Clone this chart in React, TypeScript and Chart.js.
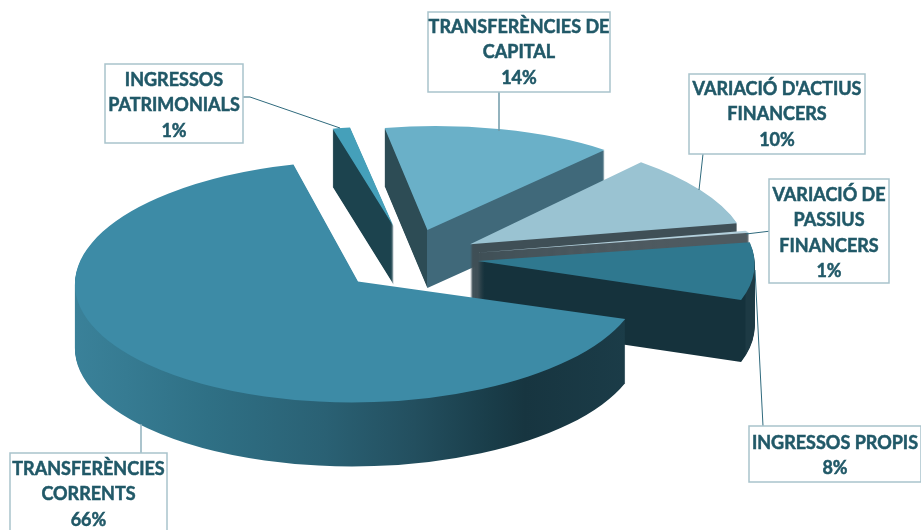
import React, { useEffect, useRef } from "react";
import Chart from "chart.js/auto";

const categories: string[][] = [
  ["TRANSFERÈNCIES", "CORRENTS"],
  ["INGRESSOS", "PATRIMONIALS"],
  ["TRANSFERÈNCIES DE", "CAPITAL"],
  ["VARIACIÓ D'ACTIUS", "FINANCERS"],
  ["VARIACIÓ DE", "PASSIUS", "FINANCERS"],
  ["INGRESSOS PROPIS"],
];
const shares = [66, 1, 14, 10, 1, 8];
const topColors = ["#3d8ba6", "#45a0ba", "#6ab0c8", "#9ac3d2", "#b3d0dc", "#2f788f"];

// Layout and styling only
const W = 921, H = 530;
const PIE_CX = 408, PIE_CY = 262, EXPLODE_X = 70, EXPLODE_Y = 33, RX = 281;
const ROTATION = 108;
const tilt = [0.43, 0.36, 0.37, 0.4, 0.13, 0.414];
const depth = [64, 58, 58, 58, 60, 62];
const paintOrder = [1, 2, 3, 4, 5, 0];
// view correction per slice: x scale, y-by-x shear, x-by-y shear, x and y nudge
const view = [
  { a: 1.007, t: 0, s: -0.05, dx: 1, dy: -3 },
  { a: 1, t: 0, s: -0.09, dx: 1, dy: -3 },
  { a: 0.956, t: 0, s: -0.074, dx: 2, dy: 0 },
  { a: 0.988, t: 0.025, s: 0.07, dx: 3, dy: 0 },
  { a: 0.985, t: -0.048, s: 0, dx: 1, dy: -2 },
  { a: 0.985, t: 0.011, s: 0, dx: 0, dy: -3 },
];
const wallStops: [number, string][][] = [
  [[76, "#3a8199"], [130, "#367b92"], [213, "#2f7085"], [330, "#2a6174"], [420, "#234f5f"], [500, "#193c48"], [530, "#173540"], [630, "#1b3c48"]],
  [[320, "#1c434e"], [400, "#1c434e"]],
  [[380, "#2d4c55"], [427, "#2d4c55"], [427, "#40697a"], [610, "#40697a"]],
  [[465, "#3f4f56"], [740, "#3f4f56"]],
  [[470, "#4e5a60"], [750, "#4e5a60"]],
  [[475, "#15323c"], [745, "#15323c"], [746, "#1d3a44"], [760, "#1d3a44"]],
];
const boxes = [
  { x: 10, y: 453, w: 157, h: 90, firstLine: 469 },
  { x: 105, y: 64, w: 138, h: 79, firstLine: 80 },
  { x: 428, y: 12, w: 182, h: 80, firstLine: 27 },
  { x: 689, y: 74, w: 176, h: 80, firstLine: 89 },
  { x: 769, y: 179, w: 120, h: 104, firstLine: 195 },
  { x: 749, y: 426, w: 172, h: 56, firstLine: 443 },
];
const leaders: { pts: number[][]; color: string; width: number }[] = [
  { pts: [[141, 424], [141, 453]], color: "#8fb0bc", width: 1.5 },
  { pts: [[243, 97], [250, 97], [340, 128]], color: "#2f6a7d", width: 1 },
  { pts: [[499, 92], [499, 131]], color: "#6f9aa9", width: 1.5 },
  { pts: [[703, 154], [699, 190]], color: "#2f6a7d", width: 1 },
  { pts: [[771, 231], [746, 234]], color: "#2f6a7d", width: 1 },
  { pts: [[755, 270], [763, 426]], color: "#2f6a7d", width: 1 },
];
const TEXT = "#215968", BORDER = "#a9c3cc", LINE_H = 25.5;

const pie3d = {
  id: "pie3d",
  beforeDatasetsDraw(chart: any) {
    const ctx: CanvasRenderingContext2D = chart.ctx;
    const arcs = chart.getDatasetMeta(0).data;
    for (const i of paintOrder) {
      const arc = arcs[i];
      const base = arc.options;
      const v = view[i];
      const k = RX / arc.outerRadius;
      const mid = (arc.startAngle + arc.endAngle) / 2;
      const tx = PIE_CX + EXPLODE_X * Math.cos(mid) + v.dx;
      const ty = PIE_CY + EXPLODE_Y * Math.sin(mid) + v.dy;
      const stops = wallStops[i];
      const x0 = stops[0][0], x1 = stops[stops.length - 1][0];
      const ux = (X: number) => arc.x + (X - tx) / (k * v.a);
      const g = ctx.createLinearGradient(ux(x0), 0, ux(x1), 0);
      stops.forEach(([X, c]) => g.addColorStop((X - x0) / (x1 - x0), c));
      const paint = (dz: number, fill: any) => {
        ctx.save();
        ctx.translate(tx, ty + dz);
        ctx.transform(v.a, v.t, v.s, 1, 0, 0);
        ctx.scale(k, k * tilt[i]);
        ctx.translate(-arc.x, -arc.y);
        arc.options = { ...base, backgroundColor: fill };
        arc.draw(ctx);
        arc.options = base;
        ctx.restore();
      };
      for (let z = depth[i]; z >= 1; z--) paint(z, g);
      paint(0, base.backgroundColor);
    }
    return false;
  },
  afterDraw(chart: any) {
    const ctx: CanvasRenderingContext2D = chart.ctx;
    ctx.save();
    leaders.forEach((l) => {
      ctx.strokeStyle = l.color;
      ctx.lineWidth = l.width;
      ctx.beginPath();
      l.pts.forEach(([x, y], n) => (n ? ctx.lineTo(x, y) : ctx.moveTo(x, y)));
      ctx.stroke();
    });
    const labels = chart.data.labels as string[][];
    const values = chart.data.datasets[0].data as number[];
    boxes.forEach((b, i) => {
      ctx.fillStyle = "#ffffff";
      ctx.fillRect(b.x, b.y, b.w, b.h);
      ctx.strokeStyle = BORDER;
      ctx.lineWidth = 1.5;
      ctx.strokeRect(b.x, b.y, b.w, b.h);
      ctx.fillStyle = TEXT;
      ctx.strokeStyle = TEXT;
      ctx.lineWidth = 0.5;
      ctx.font = "bold 18px Lato";
      ctx.textAlign = "center";
      ctx.textBaseline = "middle";
      [...labels[i], `${values[i]}%`].forEach((t, n) => {
        ctx.fillText(t, b.x + b.w / 2, b.firstLine + n * LINE_H);
        ctx.strokeText(t, b.x + b.w / 2, b.firstLine + n * LINE_H);
      });
    });
    ctx.restore();
  },
};

export default function App() {
  const ref = useRef<HTMLCanvasElement>(null);
  useEffect(() => {
    document.body.style.margin = "0";
    const chart = new Chart(ref.current as HTMLCanvasElement, {
      type: "pie",
      data: {
        labels: categories,
        datasets: [{ data: shares, backgroundColor: topColors, borderWidth: 0 }],
      },
      options: {
        responsive: false,
        animation: false,
        rotation: ROTATION,
        layout: { padding: 0 },
        plugins: { legend: { display: false }, tooltip: { enabled: false } },
      },
      plugins: [pie3d],
    } as any);
    return () => chart.destroy();
  }, []);
  return <canvas ref={ref} width={W} height={H} style={{ display: "block", width: W, height: H }} />;
}
